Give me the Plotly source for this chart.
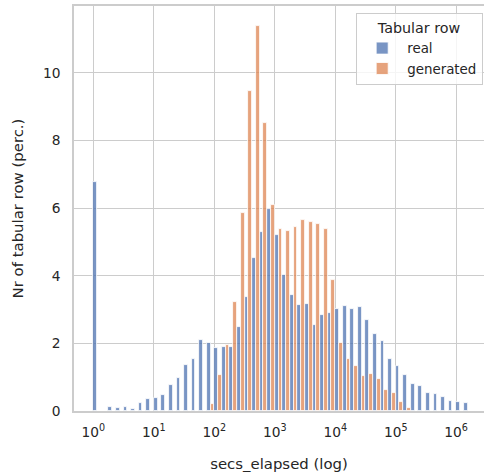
import numpy as np
import plotly.graph_objects as go

# Histogram bins in log10(secs_elapsed): 50 equal bins from 10^0 to 10^6.25
n_bins = 50
log_min, log_max = 0.0, 6.25

# Percentage of rows per bin
real = [6.76, 0, 0.13, 0.08, 0.13, 0.06, 0.24, 0.35, 0.38, 0.48,
        0.78, 0.99, 1.36, 1.53, 2.09, 2.00, 1.85, 1.89, 1.89, 2.48,
        3.37, 4.52, 5.30, 5.97, 5.20, 4.03, 3.43, 3.13, 3.18, 2.54,
        2.84, 2.91, 3.01, 3.10, 3.02, 3.07, 2.70, 2.28, 2.06, 1.55,
        1.32, 1.06, 0.79, 0.73, 0.53, 0.50, 0.40, 0.30, 0.26, 0.23]
generated = [0, 0, 0, 0, 0, 0, 0, 0, 0, 0,
             0, 0, 0, 0, 0, 0.22, 1.06, 1.94, 3.22, 5.87,
             9.47, 11.39, 8.51, 6.09, 5.38, 5.31, 5.43, 5.65, 5.60, 5.54,
             5.38, 3.88, 2.00, 1.55, 1.32, 1.03, 1.08, 0.94, 0.61, 0.52,
             0.27, 0.08, 0, 0, 0, 0, 0, 0, 0, 0]

series_names = ["real", "generated"]
tick_vals = [0, 1, 2, 3, 4, 5, 6]
tick_text = ["10<sup>%d</sup>" % v for v in tick_vals]

edges = np.linspace(log_min, log_max, n_bins + 1)
bw = edges[1] - edges[0]
left = edges[:-1]

colors = ["rgba(76,114,176,0.75)", "rgba(221,132,82,0.75)"]
font = "DejaVu Sans"
txt = "#262626"

fig = go.Figure()
for i, (name, vals) in enumerate(zip(series_names, [real, generated])):
    y = [v if v > 0 else None for v in vals]
    fig.add_trace(go.Bar(
        x=left + bw / 4 + i * bw / 2,
        y=y,
        width=bw / 2,
        name=name,
        marker=dict(color=colors[i], line=dict(color="white", width=0.8)),
    ))

fig.update_layout(
    width=484, height=475,
    margin=dict(l=74, r=0, t=6, b=64),
    barmode="overlay",
    paper_bgcolor="white",
    plot_bgcolor="white",
    font=dict(family=font, color=txt, size=13.75),
    bargap=0,
    legend=dict(
        title=dict(text="Tabular row", side="top center", font=dict(size=14.3, color=txt)),
        font=dict(size=13.4, color=txt),
        x=0.998, xanchor="right", y=0.982, yanchor="top",
        bgcolor="rgba(255,255,255,0.8)",
        bordercolor="#cccccc", borderwidth=1,
        tracegroupgap=0,
        itemwidth=40,
    ),
)
fig.update_xaxes(
    range=[-0.32, 6.46],
    tickvals=tick_vals, ticktext=tick_text,
    showgrid=True, gridcolor="#cccccc", gridwidth=1.2,
    showline=True, linecolor="#cccccc", linewidth=1.5, mirror=True,
    ticks="outside", ticklen=8, tickcolor="rgba(0,0,0,0)",
    zeroline=False,
    title=dict(text="secs_elapsed (log)", font=dict(size=14.9, color=txt), standoff=19),
    tickfont=dict(size=13.75, color=txt),
)
fig.update_yaxes(
    range=[0, 11.98],
    tickvals=[0, 2, 4, 6, 8, 10],
    showgrid=True, gridcolor="#cccccc", gridwidth=1.2,
    showline=True, linecolor="#cccccc", linewidth=1.5, mirror=False,
    ticks="outside", ticklen=9, tickcolor="rgba(0,0,0,0)",
    zeroline=False,
    title=dict(text="Nr of tabular row (perc.)", font=dict(size=14.9, color=txt), standoff=16),
    tickfont=dict(size=13.75, color=txt),
)

fig.write_html("out.html")
